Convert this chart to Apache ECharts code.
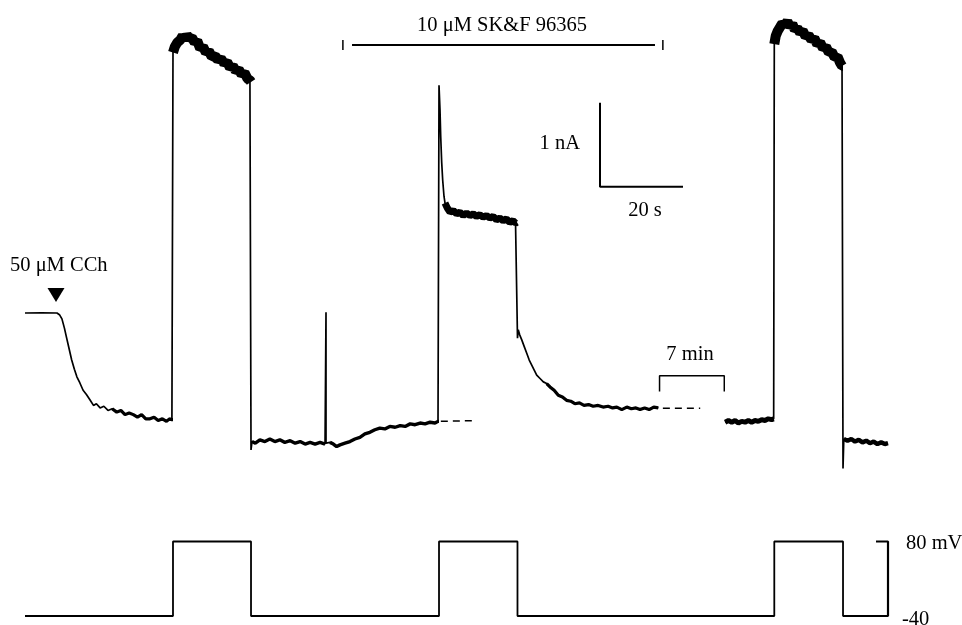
<!DOCTYPE html>
<html>
<head>
<meta charset="utf-8">
<script src="https://cdn.jsdelivr.net/npm/echarts@6/dist/echarts.min.js"></script>
<style>
html,body{margin:0;padding:0;background:#fff;}
#chart{width:962px;height:625px;}
</style>
</head>
<body>
<div id="chart"></div>
<script>
// ---- Data: time in s, current in nA (relative to holding current before CCh), voltage in mV ----
const preAndCCh = [[0,0],[4,0.003],[7.7,0],[8.3,-0.02],[8.9,-0.07],[9.5,-0.18],[10.0,-0.29],[10.6,-0.42],[11.25,-0.56],[11.9,-0.67],[12.5,-0.76],[13.2,-0.83],[14.0,-0.92],[14.8,-0.97],[15.6,-1.03],[16.5,-1.1],[17.2,-1.08],[18.1,-1.13],[19.0,-1.11],[20.0,-1.16],[21.0,-1.14],[22.1,-1.18],[23.1,-1.16],[24.1,-1.21],[25.1,-1.19],[26.1,-1.21],[27.1,-1.24],[28.1,-1.21],[29.1,-1.26],[30.1,-1.26],[31.1,-1.24],[32.1,-1.28],[33.1,-1.26],[34.1,-1.29],[34.8,-1.26],[35.4,-1.27],[35.66,-1.27]];
const pulse1 = [[35.66,3.1],[36.1,3.17],[36.7,3.22],[37.4,3.25],[38.0,3.3],[38.6,3.26],[39.0,3.31],[39.6,3.27],[40.2,3.28],[40.9,3.22],[41.5,3.24],[42.2,3.15],[42.9,3.17],[43.6,3.1],[44.3,3.12],[45.0,3.05],[45.8,3.06],[46.5,3.01],[47.2,3.03],[48.0,2.97],[48.7,2.99],[49.4,2.92],[50.1,2.94],[50.8,2.88],[51.5,2.9],[52.2,2.84],[52.9,2.86],[53.6,2.79],[54.2,2.77],[54.46,2.75]];
const drugOnset = [[54.46,-1.63],[54.7,-1.53],[55.5,-1.55],[56.6,-1.51],[57.8,-1.53],[59.0,-1.5],[60.2,-1.53],[61.4,-1.51],[62.6,-1.54],[63.9,-1.52],[65.1,-1.55],[66.3,-1.53],[67.5,-1.56],[68.7,-1.54],[69.9,-1.56],[71.1,-1.54],[72.3,-1.56],[72.53,-1.55],[72.53,0.01],[72.53,-1.55],[73.5,-1.54],[74.3,-1.56],[75.1,-1.59],[75.9,-1.57],[77.1,-1.55],[78.3,-1.53],[79.5,-1.5],[80.7,-1.48],[81.9,-1.44],[83.1,-1.42],[84.3,-1.39],[85.5,-1.37],[86.7,-1.38],[87.9,-1.35],[89.2,-1.36],[90.4,-1.34],[91.6,-1.35],[92.8,-1.32],[94.0,-1.33],[95.2,-1.31],[96.4,-1.32],[97.6,-1.3],[98.8,-1.31],[99.52,-1.29],[99.76,-1.29]];
const pulse2Peak = [[99.76,2.71],[100.0,2.42],[100.17,2.1],[100.41,1.79],[100.65,1.58],[100.96,1.39],[101.2,1.31]];
const pulse2 = [[101.2,1.31],[101.76,1.25],[102.41,1.2],[103.2,1.22],[104.0,1.18],[104.8,1.2],[105.6,1.16],[106.4,1.19],[107.2,1.16],[108.0,1.18],[108.8,1.15],[109.6,1.17],[110.4,1.14],[111.2,1.16],[112.0,1.13],[112.8,1.15],[113.6,1.11],[114.4,1.13],[115.2,1.1],[116.0,1.12],[116.8,1.08],[117.6,1.1],[118.2,1.07],[118.55,1.08],[118.67,1.08]];
const drugTail = [[118.67,-0.3],[118.85,-0.2],[119.2,-0.26],[119.7,-0.32],[120.3,-0.4],[120.9,-0.48],[121.5,-0.56],[122.1,-0.62],[122.7,-0.68],[123.3,-0.74],[124.1,-0.78],[124.9,-0.82],[125.7,-0.84],[126.5,-0.88],[127.5,-0.92],[128.5,-0.98],[129.5,-1.0],[130.5,-1.04],[131.5,-1.05],[132.5,-1.08],[133.6,-1.07],[134.7,-1.1],[135.8,-1.09],[136.9,-1.11],[138.1,-1.1],[139.3,-1.12],[140.5,-1.11],[141.6,-1.13],[142.6,-1.12],[143.8,-1.15],[145.0,-1.12],[146.1,-1.14],[147.2,-1.13],[148.2,-1.15],[149.3,-1.13],[150.4,-1.15],[151.5,-1.12],[152.6,-1.13]];
const washout = [[168.7,-1.3],[169.5,-1.28],[170.3,-1.3],[171.1,-1.28],[171.9,-1.31],[172.7,-1.29],[173.5,-1.3],[174.3,-1.28],[175.1,-1.3],[175.9,-1.28],[176.7,-1.29],[177.5,-1.27],[178.3,-1.28],[179.1,-1.26],[179.9,-1.27],[180.4,-1.26],[180.55,-1.26]];
const pulse3 = [[180.55,3.2],[180.9,3.3],[181.4,3.36],[181.9,3.4],[182.5,3.45],[183.1,3.43],[183.7,3.47],[184.3,3.41],[184.9,3.44],[185.5,3.37],[186.1,3.39],[186.75,3.34],[187.4,3.36],[188.1,3.29],[188.8,3.31],[189.5,3.25],[190.2,3.27],[190.9,3.2],[191.6,3.22],[192.3,3.15],[193.0,3.17],[193.7,3.1],[194.4,3.11],[195.1,3.04],[195.8,3.05],[196.4,2.98],[196.87,2.94],[197.11,2.94]];
const afterPulse3 = [[197.11,-1.85],[197.3,-1.5],[198.2,-1.52],[199.1,-1.5],[200.0,-1.53],[200.9,-1.51],[201.8,-1.54],[202.7,-1.52],[203.6,-1.55],[204.5,-1.53],[205.4,-1.56],[206.3,-1.54],[207.2,-1.56],[207.95,-1.55]];
const extrapolation1 = [[100.2,-1.29],[108.8,-1.28]];
const extrapolation2 = [[153.7,-1.135],[162.7,-1.135]];

// Voltage protocol
const stepTimes = [35.66, 54.46, 99.76, 118.67, 180.55, 197.11];
const traceStart = 0, traceEnd = 207.95;
const holdingMV = -40, testMV = 80;

// Annotations (data units)
const cchTime = 7.47, cchMarkerLevel = 0.214;
const drugBar = [78.8, 151.8], drugBarLevel = 3.19, drugTicks = [76.6, 153.7], drugTickRange = [3.13, 3.25];
const scaleOrigin = [138.55, 1.504], scaleTime = 20, scaleCurrent = 1;
const gapBracket = [152.9, 168.5], gapLevels = [-0.746, -0.935];
const mvBracketStart = 205.06;

// ---- Build ----
const currentTrace = [].concat(preAndCCh, pulse1, drugOnset, pulse2Peak, pulse2, drugTail, [[null,null]], washout, pulse3, afterPulse3);
const voltageTrace = [[traceStart, holdingMV]];
stepTimes.forEach((t, k) => {
  const from = k % 2 === 0 ? holdingMV : testMV;
  const to = k % 2 === 0 ? testMV : holdingMV;
  voltageTrace.push([t, from], [t, to]);
});
voltageTrace.push([traceEnd, holdingMV]);

const BLACK = '#000';
function line(data, width, extra) {
  return Object.assign({
    type: 'line', data: data, symbol: 'none', silent: true, animation: false,
    xAxisIndex: 0, yAxisIndex: 0, connectNulls: false,
    lineStyle: { color: BLACK, width: width, join: 'bevel', cap: 'butt' }
  }, extra || {});
}

const chart = echarts.init(document.getElementById('chart'), null, { renderer: 'canvas' });
const serif = '"Liberation Serif", "DejaVu Serif", serif';
const txt = (text, x, y, align, vAlign) => ({
  type: 'text', x: x, y: y, silent: true,
  style: { text: text, font: '20.5px ' + serif, fill: BLACK, align: align, verticalAlign: vAlign, textAlign: align, textVerticalAlign: vAlign }
});

chart.setOption({
  backgroundColor: '#fff',
  animation: false,
  grid: [
    { left: 0, right: 0, top: 2.2, height: 478.8 },
    { left: 0, right: 0, top: 535.3, height: 86.9 }
  ],
  xAxis: [
    { type: 'value', gridIndex: 0, min: -6.024, max: 225.78, show: false },
    { type: 'value', gridIndex: 1, min: -6.024, max: 225.78, show: false }
  ],
  yAxis: [
    { type: 'value', gridIndex: 0, min: -2.0, max: 3.7, show: false },
    { type: 'value', gridIndex: 1, min: -50, max: 90, show: false }
  ],
  series: [
    line(currentTrace, 1.7),
    line(preAndCCh.slice(20), 3.2),
    line(pulse1, 10),
    line(drugOnset.slice(1, 17), 3.4),
    line(drugOnset.slice(20), 3.4),
    line(pulse2, 7),
    line(drugTail.slice(12), 3.2),
    line(washout, 5),
    line(pulse3, 10),
    line(afterPulse3.slice(1), 4.5),
    line(extrapolation1, 1.5, { lineStyle: { color: BLACK, width: 1.5, type: [7, 5] } }),
    line(extrapolation2, 1.5, { lineStyle: { color: BLACK, width: 1.5, type: [7, 5] } }),
    line([[drugBar[0], drugBarLevel], [drugBar[1], drugBarLevel]], 2),
    line([[drugTicks[0], drugTickRange[0]], [drugTicks[0], drugTickRange[1]]], 1.5),
    line([[drugTicks[1], drugTickRange[0]], [drugTicks[1], drugTickRange[1]]], 1.5),
    line([[scaleOrigin[0], scaleOrigin[1] + scaleCurrent], scaleOrigin, [scaleOrigin[0] + scaleTime, scaleOrigin[1]]], 2),
    line([[gapBracket[0], gapLevels[1]], [gapBracket[0], gapLevels[0]], [gapBracket[1], gapLevels[0]], [gapBracket[1], gapLevels[1]]], 1.5),
    {
      type: 'scatter', xAxisIndex: 0, yAxisIndex: 0, silent: true, animation: false,
      data: [[cchTime, cchMarkerLevel]], symbol: 'triangle', symbolRotate: 180, symbolSize: [17, 14],
      itemStyle: { color: BLACK, opacity: 1 }
    },
    line(voltageTrace, 1.8, { xAxisIndex: 1, yAxisIndex: 1 }),
    line([[mvBracketStart, testMV], [traceEnd, testMV], [traceEnd, holdingMV], [mvBracketStart, holdingMV]], 2.2, { xAxisIndex: 1, yAxisIndex: 1 })
  ],
  graphic: [
    txt('50 μM CCh', 10, 266, 'left', 'middle'),
    txt('10 μM SK&F 96365', 502, 26, 'center', 'middle'),
    txt('1 nA', 580, 144, 'right', 'middle'),
    txt('20 s', 645, 211, 'center', 'middle'),
    txt('7 min', 690, 355, 'center', 'middle'),
    txt('80 mV', 906, 544, 'left', 'middle'),
    txt('-40', 902, 620, 'left', 'middle')
  ]
});
</script>
</body>
</html>
